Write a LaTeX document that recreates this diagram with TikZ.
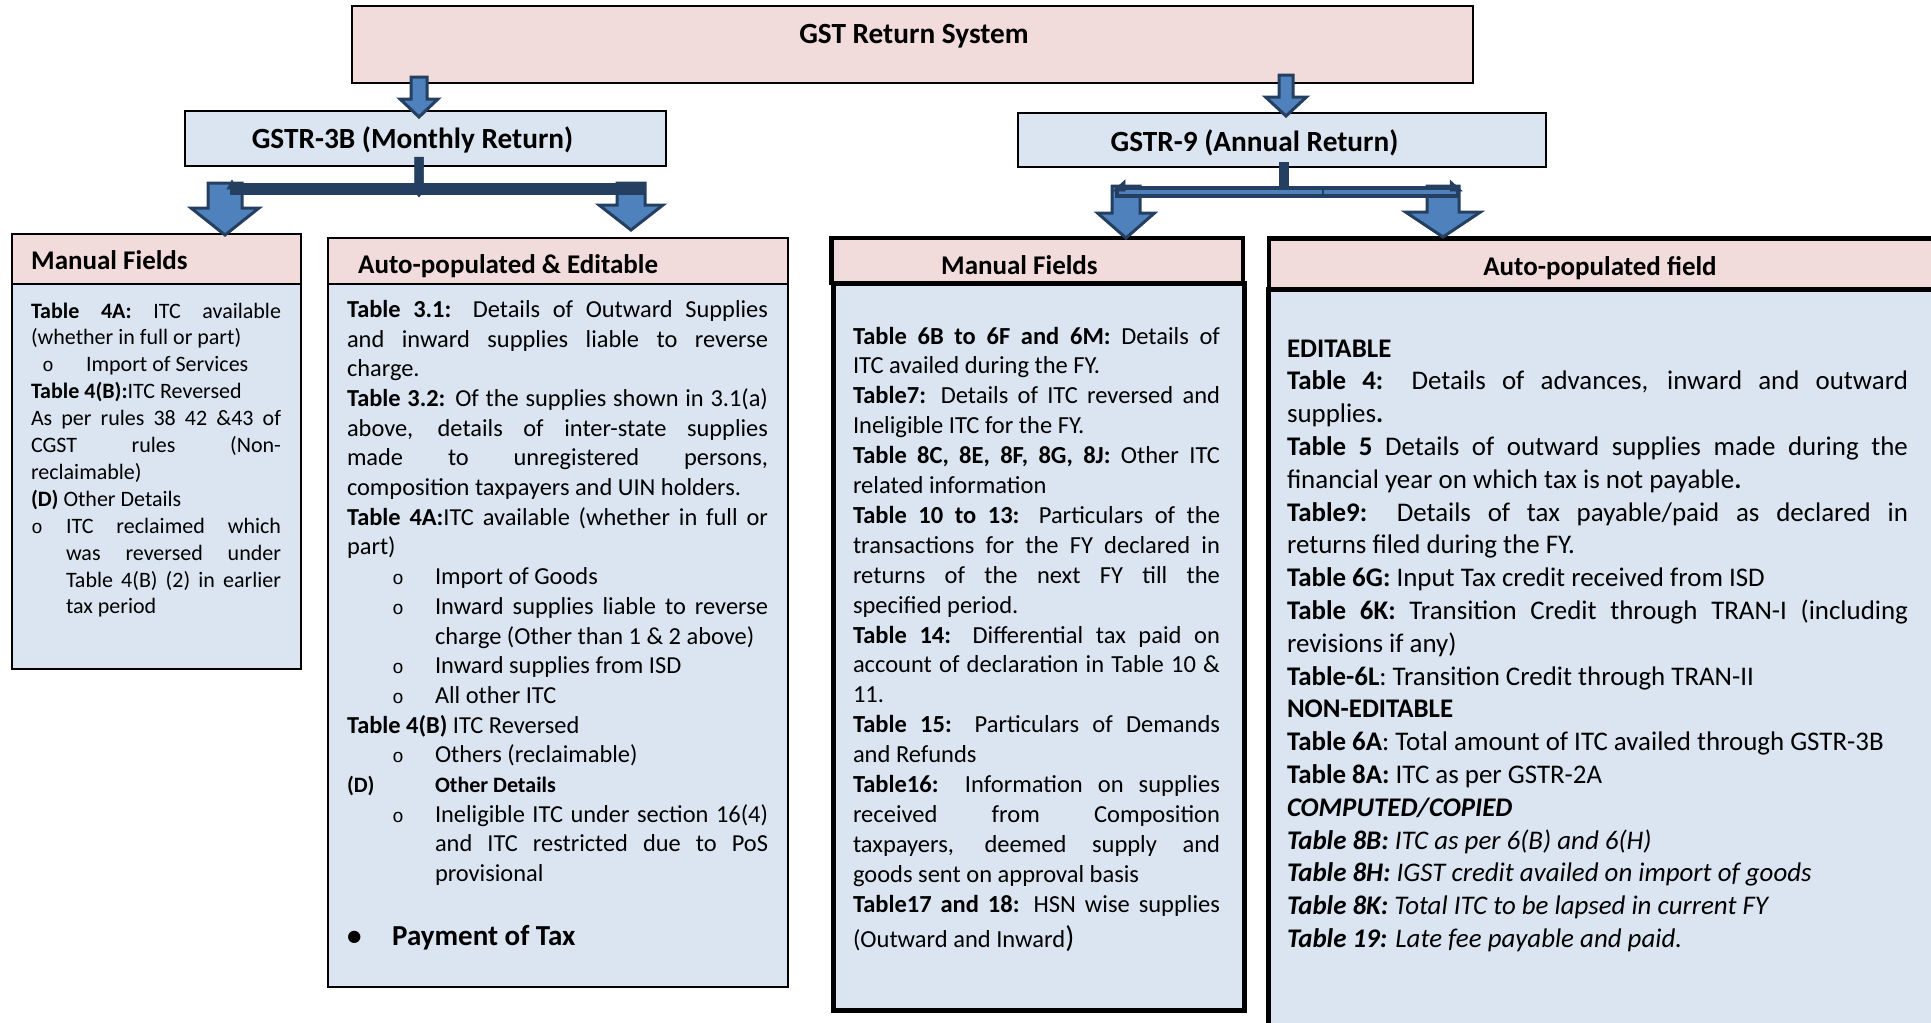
\documentclass[tikz,border=0pt]{standalone}
\usepackage{fontspec}
\setmainfont{Carlito}
\newfontfamily\bulfont{Liberation Mono}
\definecolor{pinkc}{HTML}{F2DCDB}
\definecolor{bluec}{HTML}{DBE5F1}
\definecolor{arrowc}{HTML}{4F81BD}
\definecolor{navyc}{HTML}{243F60}
\newcommand\bulo{{\bulfont\fontsize{19}{19}\selectfont o}}
\newcommand\bitem[3]{\par{\leftskip=#2pt\relax\noindent\llap{\hbox to \dimexpr#2pt-#1pt+5.7pt\relax{\bulo\hss}}#3\par}}
\newcommand\blkarrow[6]{%
 \filldraw[blockarrow] ({#1-#5},#2) -- ({#1+#5},#2) -- ({#1+#5},#3) -- ({#1+#6},#3) -- (#1,#4) -- ({#1-#6},#3) -- ({#1-#5},#3) -- cycle;}
\tikzset{
 boxbase/.style={anchor=north west, inner sep=0pt, outer sep=0pt},
 thinpink/.style={boxbase, draw=black, fill=pinkc, line width=1.8pt},
 thinblue/.style={boxbase, draw=black, fill=bluec, line width=1.8pt},
 thickpink/.style={boxbase, draw=black, fill=pinkc, line width=4.5pt},
 thickblue/.style={boxbase, draw=black, fill=bluec, line width=5pt},
 blockarrow/.style={fill=arrowc, draw=navyc, line width=3pt, line join=miter},
 barstyle/.style={fill=navyc, draw=navyc, line width=0.5pt},
 txt/.style={anchor=north west, inner sep=0pt, outer sep=0pt, align=justify},
 ttl/.style={anchor=base, inner sep=0pt, font=\fontsize{29.3}{32}\selectfont\bfseries},
 hdr/.style={inner sep=0pt, font=\fontsize{27}{30}\selectfont\bfseries},
}
\begin{document}
\begin{tikzpicture}[x=1pt,y=-1pt]
\useasboundingbox (0,0) rectangle (1931,1023);
% boxes
\node[thinpink, minimum width=1121pt, minimum height=77pt] (top) at (352,6) {};
\node[thinblue, minimum width=481pt, minimum height=55pt] (b3) at (185,111) {};
\node[thinblue, minimum width=528pt, minimum height=54pt] (b9) at (1018,113) {};
\node[thinblue, minimum width=289pt, minimum height=385pt] (Lb) at (12,284) {};
\node[thinpink, minimum width=289pt, minimum height=50pt] (Lh) at (12,234) {};
\node[thinblue, minimum width=460pt, minimum height=703pt] (MLb) at (328,284) {};
\node[thinpink, minimum width=460pt, minimum height=46pt] (MLh) at (328,238) {};
\node[thickblue, minimum width=411pt, minimum height=727.5pt] (MRb) at (833,283) {};
\node[thickpink, minimum width=411.5pt, minimum height=45pt] (MRh) at (831.5,238) {};
\node[thickblue, minimum width=677pt, minimum height=751pt] (Rb) at (1268,289) {};
\node[thickpink, minimum width=676pt, minimum height=50.3pt] (Rh) at (1269,238.7) {};
% block arrows
\blkarrow{419}{77}{99}{117}{8}{19}
\blkarrow{1286}{75}{97}{116}{7}{20.5}
\blkarrow{225}{183}{208}{235}{17}{34}
\blkarrow{631}{183}{205}{230}{14}{32}
\blkarrow{1126}{186}{213}{238}{14}{28.5}
\blkarrow{1443}{186}{212}{237}{16}{37.5}
% connectors GSTR-3B
\filldraw[barstyle] (414.5,157) -- (423.5,157) -- (423.5,191) -- (419,197) -- (414.5,191) -- cycle;
\filldraw[barstyle] (230,183) rectangle (645,194);
\filldraw[barstyle] (227,189) -- (232,180) -- (237,189) -- cycle;
% connectors GSTR-9
\filldraw[barstyle] (1279.5,162) -- (1288.5,162) -- (1288.5,187) -- (1279.5,187) -- cycle;
\filldraw[fill=arrowc, draw=navyc, line width=4pt] (1117,188) rectangle (1458,195.5);
\filldraw[barstyle] (1113,191) -- (1125,180) -- (1125,191) -- cycle;
\filldraw[barstyle] (1462,191) -- (1450,180) -- (1450,191) -- cycle;
\draw[navyc, line width=1.5pt] (1323,187) -- (1323,196);
% titles
\node[ttl] (tTop) at (914,43) {GST Return System};
\node[ttl] (t3b) at (412.5,148) {GSTR-3B (Monthly Return)};
\node[ttl] (t9) at (1254.5,151) {GSTR-9 (Annual Return)};
% headers
\node[hdr, anchor=base west] (hL) at (31,269) {Manual Fields};
\node[hdr, anchor=base west] (hML) at (358,273) {Auto-populated \& Editable};
\node[hdr, anchor=base west] (hMR) at (941,274) {Manual Fields};
\node[hdr, anchor=base] (hR) at (1600,275) {Auto-populated field};
% left body
\node[txt, font=\fontsize{22}{26.9}\selectfont, text width=250pt] (Ltxt) at (31,296) {\tolerance=10000\hyphenpenalty=10000\parindent=0pt
\rule{0pt}{22pt}\textbf{Table 4A:} ITC available\linebreak (whether in full or part)\par
\bitem{17}{55}{Import of Services}
\textbf{Table 4(B):}ITC Reversed\par
As per rules 38 42 \&43 of\linebreak CGST rules (Non-\linebreak reclaimable)\par
\textbf{(D)} Other Details\par
\bitem{6}{35}{ITC reclaimed which\linebreak was reversed under\linebreak Table 4(B) (2) in earlier\linebreak tax period}
};
% middle-left body
\node[txt, font=\fontsize{24.4}{29.7}\selectfont, text width=421pt] (MLtxt) at (347,292.9) {\tolerance=10000\hyphenpenalty=10000\parindent=0pt
\rule{0pt}{24.4pt}\textbf{Table 3.1:} Details of Outward Supplies\linebreak and inward supplies liable to reverse\linebreak charge.\par
\textbf{Table 3.2:} Of the supplies shown in 3.1(a)\linebreak above, details of inter-state supplies\linebreak made to unregistered persons,\linebreak composition taxpayers and UIN holders.\par
\textbf{Table 4A:}ITC available (whether in full or\linebreak part)\par
\bitem{51}{88}{Import of Goods}
\bitem{51}{88}{Inward supplies liable to reverse\linebreak charge (Other than 1 \& 2 above)}
\bitem{51}{88}{Inward supplies from ISD}
\bitem{51}{88}{All other ITC}
\textbf{Table 4(B)} ITC Reversed\par
\bitem{51}{88}{Others (reclaimable)}
{\fontsize{22}{29.7}\selectfont\bfseries\makebox[88pt][l]{(D)}Other Details\par}
\bitem{51}{88}{Ineligible ITC under section 16(4)\linebreak and ITC restricted due to PoS\linebreak provisional}
};
\node[anchor=base west, inner sep=0pt, font=\fontsize{29}{32}\selectfont\bfseries] (pay) at (347,945) {\makebox[45pt][l]{•}Payment of Tax};
% middle-right body
\node[txt, font=\fontsize{24.5}{29.9}\selectfont, text width=367pt] (MRtxt) at (853,319.5) {\tolerance=10000\hyphenpenalty=10000\parindent=0pt
\rule{0pt}{24.5pt}\textbf{Table 6B to 6F and 6M:} Details of\linebreak ITC availed during the FY.\par
\textbf{Table7:} Details of ITC reversed and\linebreak Ineligible ITC for the FY.\par
\textbf{Table 8C, 8E, 8F, 8G, 8J:} Other ITC\linebreak related information\par
\textbf{Table 10 to 13:} Particulars of the\linebreak transactions for the FY declared in\linebreak returns of the next FY till the\linebreak specified period.\par
\textbf{Table 14:} Differential tax paid on\linebreak account of declaration in Table 10 \&\linebreak 11.\par
\textbf{Table 15:} Particulars of Demands\linebreak and Refunds\par
\textbf{Table16:} Information on supplies\linebreak received from Composition\linebreak taxpayers, deemed supply and\linebreak goods sent on approval basis\par
\textbf{Table17 and 18:} HSN wise supplies\vadjust{\vskip5pt}\linebreak (Outward and Inward{\fontsize{30}{30}\selectfont )}\par
};
% right body
\node[txt, font=\fontsize{26.9}{32.8}\selectfont, text width=621pt] (Rtxt) at (1287,330.1) {\tolerance=10000\hyphenpenalty=10000\parindent=0pt
\rule{0pt}{26.9pt}\textbf{EDITABLE}\par
\textbf{Table 4:} Details of advances, inward and outward\linebreak supplies\textbf{.}\par
\textbf{Table 5} Details of outward supplies made during the\linebreak financial year on which tax is not payable\textbf{.}\par
\textbf{Table9:} Details of tax payable/paid as declared in\linebreak returns filed during the FY.\par
\textbf{Table 6G:} Input Tax credit received from ISD\par
\textbf{Table 6K:} Transition Credit through TRAN-I (including\linebreak revisions if any)\par
\textbf{Table-6L}: Transition Credit through TRAN-II\par
\textbf{NON-EDITABLE}\par
\textbf{Table 6A}: Total amount of ITC availed through GSTR-3B\par
\textbf{Table 8A:} ITC as per GSTR-2A\par
\textbf{\textit{COMPUTED/COPIED}}\par
\textbf{\textit{Table 8B:}} \textit{ITC as per 6(B) and 6(H)}\par
\textbf{\textit{Table 8H:}} \textit{IGST credit availed on import of goods}\par
\textbf{\textit{Table 8K:}} \textit{Total ITC to be lapsed in current FY}\par
\textbf{\textit{Table 19:}} \textit{Late fee payable and paid.}\par
};
\end{tikzpicture}
\end{document}
